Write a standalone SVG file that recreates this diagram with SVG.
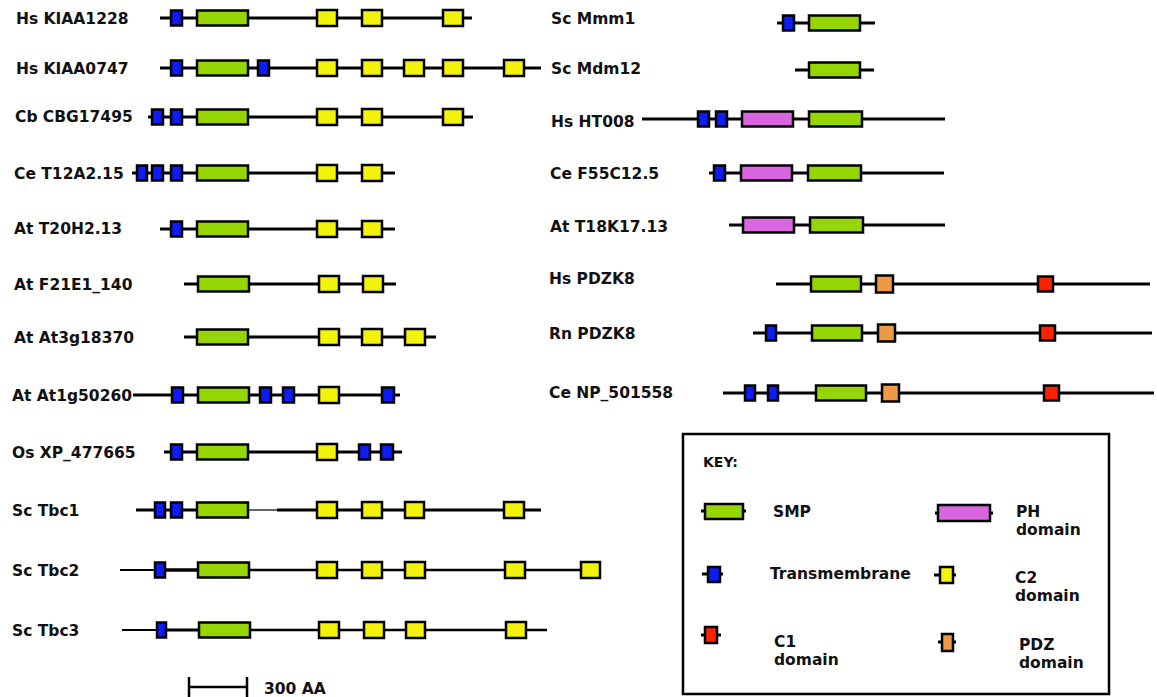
<svg xmlns="http://www.w3.org/2000/svg" width="1157" height="697" viewBox="0 0 1157 697">
<style>
text{font-family:"DejaVu Sans","Verdana",sans-serif;font-weight:bold;font-size:15.5px;fill:#111}
.bb{stroke:#000;stroke-width:3;fill:none}
.tm{fill:#0d1bf5;stroke:#000;stroke-width:2.5}
.smp{fill:#96d600;stroke:#000;stroke-width:2.5}
.c2{fill:#f2f20a;stroke:#000;stroke-width:2.5}
.ph{fill:#d966e0;stroke:#000;stroke-width:2.5}
.pdz{fill:#ee9944;stroke:#000;stroke-width:2.5}
.c1{fill:#ff2200;stroke:#000;stroke-width:2.5}
</style>
<rect width="1157" height="697" fill="#fff"/>

<g id="hs-kiaa1228">
<text x="16" y="24">Hs KIAA1228</text>
<line class="bb" x1="160" y1="18" x2="472" y2="18"/>
<rect class="tm" x="171" y="10.5" width="11" height="15"/>
<rect class="smp" x="197" y="10.5" width="51" height="15"/>
<rect class="c2" x="317" y="10" width="20" height="16"/>
<rect class="c2" x="362" y="10" width="20" height="16"/>
<rect class="c2" x="443" y="10" width="20" height="16"/>
</g>

<g id="hs-kiaa0747">
<text x="16" y="74">Hs KIAA0747</text>
<line class="bb" x1="160" y1="68" x2="541" y2="68"/>
<rect class="tm" x="171" y="60.5" width="11" height="15"/>
<rect class="smp" x="197" y="60.5" width="51" height="15"/>
<rect class="tm" x="258" y="60.5" width="11" height="15"/>
<rect class="c2" x="317" y="60" width="20" height="16"/>
<rect class="c2" x="362" y="60" width="20" height="16"/>
<rect class="c2" x="404" y="60" width="20" height="16"/>
<rect class="c2" x="443" y="60" width="20" height="16"/>
<rect class="c2" x="504" y="60" width="20" height="16"/>
</g>

<g id="cb-cbg17495">
<text x="15" y="122">Cb CBG17495</text>
<line class="bb" x1="148" y1="117" x2="473" y2="117"/>
<rect class="tm" x="152" y="109.5" width="11" height="15"/>
<rect class="tm" x="171" y="109.5" width="11" height="15"/>
<rect class="smp" x="197" y="109.5" width="51" height="15"/>
<rect class="c2" x="317" y="109" width="20" height="16"/>
<rect class="c2" x="362" y="109" width="20" height="16"/>
<rect class="c2" x="443" y="109" width="20" height="16"/>
</g>

<g id="ce-t12a2-15">
<text x="14" y="178.5">Ce T12A2.15</text>
<line class="bb" x1="132" y1="173" x2="395" y2="173"/>
<rect class="tm" x="137" y="165.5" width="10" height="15"/>
<rect class="tm" x="152" y="165.5" width="11" height="15"/>
<rect class="tm" x="171" y="165.5" width="11" height="15"/>
<rect class="smp" x="197" y="165.5" width="51" height="15"/>
<rect class="c2" x="317" y="165" width="20" height="16"/>
<rect class="c2" x="362" y="165" width="20" height="16"/>
</g>

<g id="at-t20h2-13">
<text x="14" y="234">At T20H2.13</text>
<line class="bb" x1="160" y1="229" x2="395" y2="229"/>
<rect class="tm" x="171" y="221.5" width="11" height="15"/>
<rect class="smp" x="197" y="221.5" width="51" height="15"/>
<rect class="c2" x="317" y="221" width="20" height="16"/>
<rect class="c2" x="362" y="221" width="20" height="16"/>
</g>

<g id="at-f21e1-140">
<text x="14" y="290">At F21E1_140</text>
<line class="bb" x1="184" y1="284" x2="396" y2="284"/>
<rect class="smp" x="198" y="276.5" width="51" height="15"/>
<rect class="c2" x="319" y="276" width="20" height="16"/>
<rect class="c2" x="363" y="276" width="20" height="16"/>
</g>

<g id="at-at3g18370">
<text x="14" y="343">At At3g18370</text>
<line class="bb" x1="184" y1="337" x2="436" y2="337"/>
<rect class="smp" x="197" y="329.5" width="51" height="15"/>
<rect class="c2" x="319" y="329" width="20" height="16"/>
<rect class="c2" x="362" y="329" width="20" height="16"/>
<rect class="c2" x="405" y="329" width="20" height="16"/>
</g>

<g id="at-at1g50260">
<text x="12" y="401">At At1g50260</text>
<line class="bb" x1="133" y1="395" x2="400" y2="395"/>
<rect class="tm" x="172" y="387.5" width="11" height="15"/>
<rect class="smp" x="198" y="387.5" width="51" height="15"/>
<rect class="tm" x="260" y="387.5" width="11" height="15"/>
<rect class="tm" x="283" y="387.5" width="11" height="15"/>
<rect class="c2" x="319" y="387" width="20" height="16"/>
<rect class="tm" x="382" y="387.5" width="12" height="15"/>
</g>

<g id="os-xp-477665">
<text x="12" y="458">Os XP_477665</text>
<line class="bb" x1="164" y1="452" x2="402" y2="452"/>
<rect class="tm" x="171" y="444.5" width="11" height="15"/>
<rect class="smp" x="197" y="444.5" width="51" height="15"/>
<rect class="c2" x="317" y="444" width="20" height="16"/>
<rect class="tm" x="359" y="444.5" width="11" height="15"/>
<rect class="tm" x="381" y="444.5" width="12" height="15"/>
</g>

<g id="sc-tbc1">
<text x="12" y="515.5">Sc Tbc1</text>
<line class="bb" x1="136" y1="510" x2="249" y2="510"/>
<line x1="249" y1="510" x2="277" y2="510" stroke="#333" stroke-width="1.5"/>
<line class="bb" x1="277" y1="510" x2="541" y2="510"/>
<rect class="tm" x="155" y="502.5" width="10" height="15"/>
<rect class="tm" x="171" y="502.5" width="11" height="15"/>
<rect class="smp" x="197" y="502.5" width="51" height="15"/>
<rect class="c2" x="317" y="502" width="20" height="16"/>
<rect class="c2" x="362" y="502" width="20" height="16"/>
<rect class="c2" x="405" y="502" width="19" height="16"/>
<rect class="c2" x="504" y="502" width="20" height="16"/>
</g>

<g id="sc-tbc2">
<text x="12" y="575.5">Sc Tbc2</text>
<line x1="120" y1="570" x2="155" y2="570" stroke="#000" stroke-width="2"/>
<line x1="165" y1="570" x2="198" y2="570" stroke="#000" stroke-width="3.5"/>
<line class="bb" x1="248" y1="570" x2="581" y2="570" style="stroke-width:2.5"/>
<rect class="tm" x="155" y="562.5" width="10" height="15"/>
<rect class="smp" x="198" y="562.5" width="51" height="15"/>
<rect class="c2" x="317" y="562" width="20" height="16"/>
<rect class="c2" x="362" y="562" width="20" height="16"/>
<rect class="c2" x="405" y="562" width="20" height="16"/>
<rect class="c2" x="505" y="562" width="20" height="16"/>
<rect class="c2" x="581" y="562" width="19" height="16"/>
</g>

<g id="sc-tbc3">
<text x="12" y="635.5">Sc Tbc3</text>
<line x1="122" y1="630" x2="157" y2="630" stroke="#000" stroke-width="2"/>
<line x1="166" y1="630" x2="199" y2="630" stroke="#000" stroke-width="3"/>
<line class="bb" x1="250" y1="630" x2="547" y2="630" style="stroke-width:2.5"/>
<rect class="tm" x="157" y="622.5" width="9" height="15"/>
<rect class="smp" x="199" y="622.5" width="51" height="15"/>
<rect class="c2" x="319" y="622" width="20" height="16"/>
<rect class="c2" x="364" y="622" width="20" height="16"/>
<rect class="c2" x="406" y="622" width="19" height="16"/>
<rect class="c2" x="506" y="622" width="20" height="16"/>
</g>

<g id="scale-bar">
<line x1="188" y1="687" x2="248" y2="687" stroke="#000" stroke-width="2.5"/>
<line x1="189" y1="677" x2="189" y2="697" stroke="#000" stroke-width="2.5"/>
<line x1="247" y1="677" x2="247" y2="697" stroke="#000" stroke-width="2.5"/>
<text x="264" y="694">300 AA</text>
</g>

<g id="sc-mmm1">
<text x="551" y="24">Sc Mmm1</text>
<line class="bb" x1="777" y1="23" x2="875" y2="23"/>
<rect class="tm" x="783" y="15.5" width="11" height="15"/>
<rect class="smp" x="809" y="15.5" width="51" height="15"/>
</g>

<g id="sc-mdm12">
<text x="551" y="73.5">Sc Mdm12</text>
<line class="bb" x1="795" y1="70" x2="874" y2="70"/>
<rect class="smp" x="809" y="62.5" width="51" height="15"/>
</g>

<g id="hs-ht008">
<text x="551" y="127">Hs HT008</text>
<line class="bb" x1="642" y1="119" x2="945" y2="119"/>
<rect class="tm" x="698" y="111.5" width="11" height="15"/>
<rect class="tm" x="716" y="111.5" width="11" height="15"/>
<rect class="ph" x="742" y="111.5" width="51" height="15"/>
<rect class="smp" x="809" y="111.5" width="53" height="15"/>
</g>

<g id="ce-f55c12-5">
<text x="550" y="178.5">Ce F55C12.5</text>
<line class="bb" x1="709" y1="173" x2="944" y2="173"/>
<rect class="tm" x="714" y="165.5" width="11" height="15"/>
<rect class="ph" x="741" y="165.5" width="51" height="15"/>
<rect class="smp" x="808" y="165.5" width="53" height="15"/>
</g>

<g id="at-t18k17-13">
<text x="550" y="231.5">At T18K17.13</text>
<line class="bb" x1="729" y1="225" x2="945" y2="225"/>
<rect class="ph" x="743" y="217.5" width="51" height="15"/>
<rect class="smp" x="810" y="217.5" width="53" height="15"/>
</g>

<g id="hs-pdzk8">
<text x="549" y="283.5">Hs PDZK8</text>
<line class="bb" x1="776" y1="284" x2="1150" y2="284"/>
<rect class="smp" x="811" y="276.5" width="50" height="15"/>
<rect class="pdz" x="876" y="275.5" width="17" height="17"/>
<rect class="c1" x="1038" y="276.5" width="15" height="15"/>
</g>

<g id="rn-pdzk8">
<text x="549" y="338.5">Rn PDZK8</text>
<line class="bb" x1="753" y1="333" x2="1152" y2="333"/>
<rect class="tm" x="766" y="325.5" width="10" height="15"/>
<rect class="smp" x="812" y="325.5" width="50" height="15"/>
<rect class="pdz" x="878" y="324.5" width="17" height="17"/>
<rect class="c1" x="1040" y="325.5" width="15" height="15"/>
</g>

<g id="ce-np-501558">
<text x="549" y="398">Ce NP_501558</text>
<line class="bb" x1="723" y1="393" x2="1154" y2="393"/>
<rect class="tm" x="745" y="385.5" width="10" height="15"/>
<rect class="tm" x="768" y="385.5" width="10" height="15"/>
<rect class="smp" x="816" y="385.5" width="50" height="15"/>
<rect class="pdz" x="882" y="384.5" width="17" height="17"/>
<rect class="c1" x="1044" y="385.5" width="15" height="15"/>
</g>

<g id="key">
<rect x="683" y="434" width="426" height="260" fill="#fff" stroke="#000" stroke-width="2.5"/>
<text x="703" y="467" style="font-size:14px">KEY:</text>
<line x1="701" y1="511" x2="746" y2="511" stroke="#000" stroke-width="3"/>
<rect class="smp" x="705" y="504" width="38" height="15"/>
<text x="773" y="517">SMP</text>
<line x1="935" y1="513" x2="993" y2="513" stroke="#000" stroke-width="3"/>
<rect class="ph" x="938" y="505" width="52" height="16"/>
<text x="1016" y="517">PH</text>
<text x="1016" y="535">domain</text>
<line x1="702" y1="574" x2="723" y2="574" stroke="#000" stroke-width="3"/>
<rect class="tm" x="708" y="567" width="12" height="15"/>
<text x="770" y="579">Transmembrane</text>
<line x1="934" y1="575" x2="956" y2="575" stroke="#000" stroke-width="3"/>
<rect class="c2" x="940" y="567" width="13" height="16"/>
<text x="1015" y="583">C2</text>
<text x="1015" y="601">domain</text>
<line x1="701" y1="635" x2="721" y2="635" stroke="#000" stroke-width="3"/>
<rect class="c1" x="705" y="627" width="12" height="16"/>
<text x="774" y="647">C1</text>
<text x="774" y="665">domain</text>
<line x1="938" y1="642" x2="956" y2="642" stroke="#000" stroke-width="3"/>
<rect class="pdz" x="942" y="634" width="11" height="17"/>
<text x="1019" y="650">PDZ</text>
<text x="1019" y="668">domain</text>
</g>
</svg>
